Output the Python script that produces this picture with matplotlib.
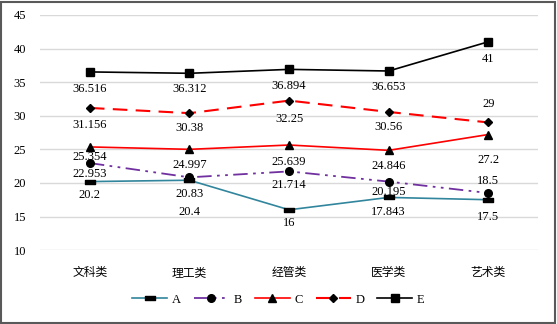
import matplotlib
matplotlib.use("Agg")
import matplotlib.pyplot as plt
from matplotlib.path import Path
from matplotlib.patches import Rectangle

plt.rcParams['font.family'] = ['Liberation Serif', 'Noto Sans CJK SC', 'DejaVu Sans']

categories = ['文科类', '理工类', '经管类', '医学类', '艺术类']
series_names = ['A', 'B', 'C', 'D', 'E']
A = [20.2, 20.4, 16, 17.843, 17.5]
B = [22.953, 20.83, 21.714, 20.195, 18.5]
C = [25.354, 24.997, 25.639, 24.846, 27.2]
D = [31.156, 30.38, 32.25, 30.56, 29]
E = [36.516, 36.312, 36.894, 36.653, 41]
yticks = [10, 15, 20, 25, 30, 35, 40, 45]

# label vertical offsets in pixels (positive = below point)
offsets = {
    'A': [13, 32, 13, 15, 17],
    'B': [11, 17, 14, 10, -12],
    'C': [10, 16, 17, 16, 25],
    'D': [17, 15, 18, 15, -18],
    'E': [17, 16, 17, 16, 17],
}

rect = Path([(-1, -0.45), (1, -0.45), (1, 0.45), (-1, 0.45), (-1, -0.45)],
            [Path.MOVETO, Path.LINETO, Path.LINETO, Path.LINETO, Path.CLOSEPOLY])

styles = {
    'A': dict(color='#31859C', marker=rect, markersize=6.5, linestyle='-', lw=1.2),
    'B': dict(color='#7030A0', marker='o', markersize=5.5, dashes=(8, 3, 1.5, 3, 1.5, 3), lw=1.3),
    'C': dict(color='#FF0000', marker='^', markersize=5.5, linestyle='-', lw=1.2),
    'D': dict(color='#FF0000', marker='D', markersize=4, dashes=(7, 4), lw=1.5),
    'E': dict(color='#000000', marker='s', markersize=5.5, linestyle='-', lw=1.2),
}

data = {'A': A, 'B': B, 'C': C, 'D': D, 'E': E}

fig = plt.figure(figsize=(5.57, 3.24), dpi=100)
ax = fig.add_axes([0.072, 0.228, 0.894, 0.726])
x = list(range(len(categories)))
for name in series_names:
    st = dict(styles[name])
    ax.plot(x, data[name], label=name, markerfacecolor='black', markeredgecolor='black', **st)
    for xi, yi, off in zip(x, data[name], offsets[name]):
        ax.annotate(f"{yi:g}", (xi, yi), xytext=(0, -off), textcoords='offset pixels',
                    ha='center', va='center', fontsize=9, color='black')

ax.set_xlim(-0.5, 4.5)
ax.set_ylim(10, 45)
ax.set_yticks(yticks)
ax.set_xticks(x)
ax.set_xticklabels(categories, fontsize=8.5)
ax.grid(axis='y', color='#D9D9D9', lw=1)
ax.set_axisbelow(True)
for s in ax.spines.values():
    s.set_visible(False)
ax.tick_params(axis='both', length=0, colors='#000000')
ax.tick_params(axis='y', labelsize=9, pad=10)
ax.tick_params(axis='x', pad=12)

leg = fig.legend(loc='center', bbox_to_anchor=(0.5, 0.075), ncol=5, frameon=False,
                 fontsize=9, handlelength=2.8, columnspacing=1.0, handletextpad=0.4)

fig.patches.append(Rectangle((0.002, 0.003), 0.994, 0.992, transform=fig.transFigure,
                             fill=False, edgecolor='#595959', lw=1.5))
fig.savefig('out.png', dpi=100)
